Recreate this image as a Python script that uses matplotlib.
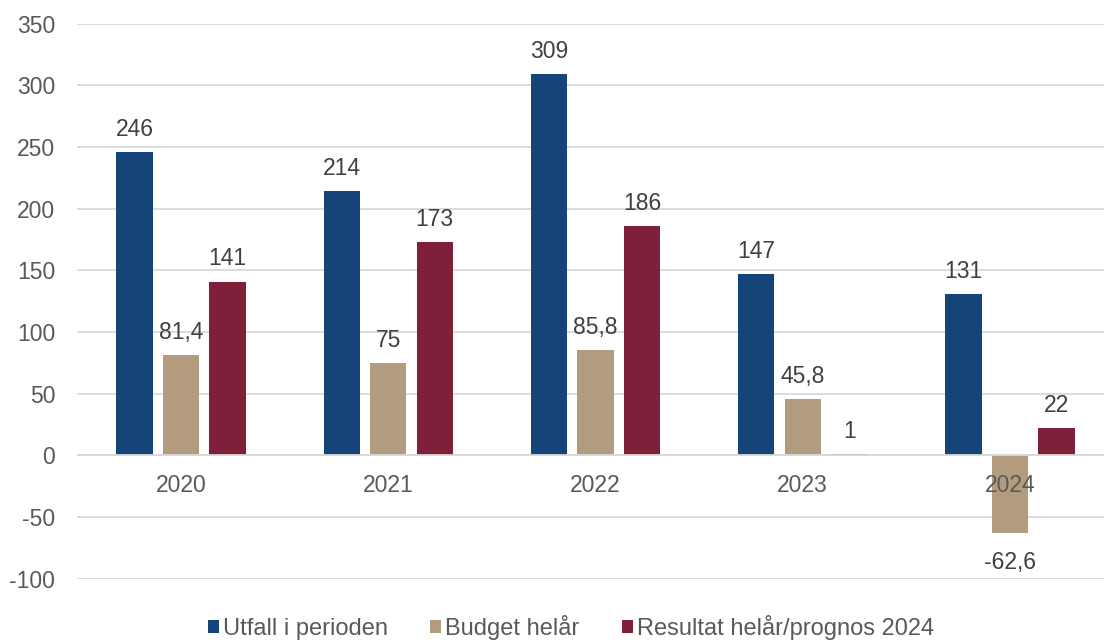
import numpy as np
import matplotlib.pyplot as plt

plt.rcParams['font.family'] = ['Liberation Sans', 'DejaVu Sans']
plt.rcParams['axes.unicode_minus'] = False

years = ['2020', '2021', '2022', '2023', '2024']
utfall = [246, 214, 309, 147, 131]
budget = [81.4, 75, 85.8, 45.8, -62.6]
resultat = [141, 173, 186, 1, 22]

series = [
    ('Utfall i perioden', utfall, '#154578'),
    ('Budget helår', budget, '#B39B7E'),
    ('Resultat helår/prognos 2024', resultat, '#7F1F3A'),
]

fig = plt.figure(figsize=(11.04, 6.41), dpi=100)
ax = fig.add_axes([0.0701, 0.097, 0.9386, 0.866])

x = np.arange(len(years))
width = 0.175
step = 0.224
fs = 16.5

for i, (name, vals, color) in enumerate(series):
    pos = x + (i - 1) * step
    ax.bar(pos, vals, width, color=color, label=name, zorder=3)
    for px, v in zip(pos, vals):
        txt = f'{v:g}'.replace('.', ',')
        if v >= 0:
            ax.annotate(txt, (px, v), xytext=(0, 8), textcoords='offset points',
                        ha='center', va='bottom', fontsize=fs, color='#404040')
        else:
            ax.annotate(txt, (px, v), xytext=(0, -13), textcoords='offset points',
                        ha='center', va='top', fontsize=fs, color='#404040')

ax.set_xlim(-0.5, 4.5)
ax.set_ylim(-100, 350)
ax.set_yticks(np.arange(-100, 351, 50))
ax.yaxis.grid(True, color='#D9D9D9', linewidth=1.3, zorder=0)
ax.axhline(0, color='#D9D9D9', linewidth=1.3, zorder=4)
ax.set_xticks([])
for px, yr in zip(x, years):
    ax.text(px, -24, yr, ha='center', va='center', fontsize=fs, color='#595959', zorder=5)

for s in ax.spines.values():
    s.set_visible(False)
ax.tick_params(axis='y', length=0, labelsize=fs, labelcolor='#595959', pad=16)

# legend centred under the plot, close to the bottom edge
handles, labels = ax.get_legend_handles_labels()
fig.legend(handles, labels, loc='center', bbox_to_anchor=(571 / 1104, 0.021), ncol=3,
           frameon=False, fontsize=17, labelcolor='#595959', handlelength=0.45,
           handleheight=0.45, handletextpad=0.17, columnspacing=1.8,
           borderpad=0, borderaxespad=0)

fig.savefig('out.png', dpi=100)
